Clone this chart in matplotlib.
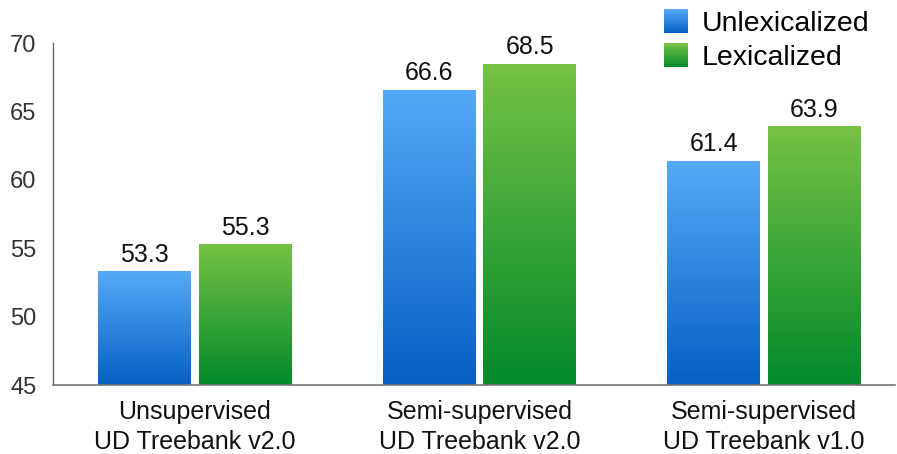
import numpy as np
import matplotlib
matplotlib.use('Agg')
from matplotlib import pyplot as plt
from matplotlib.patches import Rectangle
from matplotlib.legend_handler import HandlerBase
from matplotlib.colors import LinearSegmentedColormap

plt.rcParams['font.family'] = ['Liberation Sans', 'DejaVu Sans']

groups = ['Unsupervised\nUD Treebank v2.0',
          'Semi-supervised\nUD Treebank v2.0',
          'Semi-supervised\nUD Treebank v1.0']
unlex = [53.3, 66.6, 61.4]
lex = [55.3, 68.5, 63.9]
series_names = ['Unlexicalized', 'Lexicalized']

# gradient colours, top -> bottom
blue = ('#56aaf9', '#0560c2')
green = ('#76c245', '#028a2b')


def grad_cmap(c):
    # colormap runs bottom (0) -> top (1)
    return LinearSegmentedColormap.from_list('g', [c[1], c[0]])


def gradient_bars(ax, xs, heights, width, colors, base):
    cmap = grad_cmap(colors)
    bars = ax.bar(xs, np.array(heights) - base, width, bottom=base,
                  color='none', edgecolor='none', zorder=2)
    grad = np.linspace(0, 1, 256).reshape(-1, 1)
    for b in bars:
        x0, y0 = b.get_x(), b.get_y()
        w, h = b.get_width(), b.get_height()
        im = ax.imshow(grad, cmap=cmap, origin='lower', aspect='auto',
                       extent=(x0, x0 + w, y0, y0 + h), zorder=2)
        im.set_clip_path(b)
    return bars


class GradientHandler(HandlerBase):
    def __init__(self, colors):
        super().__init__()
        self.cmap = grad_cmap(colors)

    def create_artists(self, legend, orig_handle, xdescent, ydescent,
                       width, height, fontsize, trans):
        n = 24
        side = height * 1.2
        x0 = xdescent + (width - side) / 2
        y0 = -ydescent - (side - height) / 2
        arts = []
        for i in range(n):
            r = Rectangle((x0, y0 + side * i / n), side, side / n + 0.3,
                          facecolor=self.cmap((i + 0.5) / n), edgecolor='none',
                          transform=trans)
            arts.append(r)
        return arts


fig = plt.figure(figsize=(8.97, 4.54), dpi=100)
ax = fig.add_axes([53 / 897, 69 / 454, 842 / 897, 342 / 454])

x = np.arange(len(groups))
w = 0.326
off = 0.177
base = 45

b1 = gradient_bars(ax, x - off, unlex, w, blue, base)
b2 = gradient_bars(ax, x + off, lex, w, green, base)

for bars, vals in ((b1, unlex), (b2, lex)):
    for b, v in zip(bars, vals):
        ax.annotate('%.1f' % v, xy=(b.get_x() + b.get_width() / 2, v),
                    xytext=(0, 3), textcoords='offset points',
                    ha='center', va='bottom', fontsize=18, color='#111111')

ax.set_ylim(45, 70)
ax.set_xlim(-0.498, 2.46)
ax.set_yticks(np.arange(45, 71, 5))
ax.set_xticks(x)
ax.set_xticklabels(groups, fontsize=18, linespacing=1.3, color='#111111')
ax.tick_params(axis='y', length=0, pad=12, labelsize=17, labelcolor='#333333')
ax.tick_params(axis='x', length=0, pad=11)

ax.spines['right'].set_visible(False)
ax.spines['top'].set_visible(False)
ax.spines['left'].set_color('#666666')
ax.spines['bottom'].set_color('#777777')
ax.spines['left'].set_linewidth(1.0)
ax.spines['bottom'].set_linewidth(1.2)

h1 = Rectangle((0, 0), 1, 1)
h2 = Rectangle((0, 0), 1, 1)
fig.legend([h1, h2], series_names, loc='upper left',
           bbox_to_anchor=(660 / 897, 1 - 11 / 454), frameon=False,
           borderpad=0, borderaxespad=0,
           fontsize=20.5, handlelength=1.1, handletextpad=0.35, labelspacing=0.28,
           handler_map={h1: GradientHandler(blue), h2: GradientHandler(green)})

fig.savefig('out.png', dpi=100)
